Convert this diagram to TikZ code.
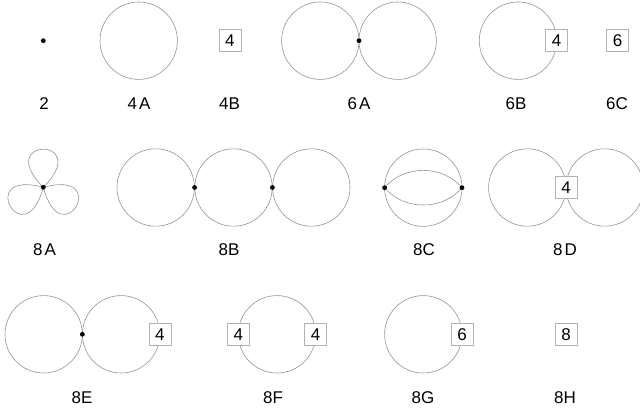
\documentclass[tikz,border=0pt]{standalone}
\usepackage{fontspec}
\setmainfont{Liberation Sans}
\pgfdeclarelayer{edges}
\pgfsetlayers{edges,main}
\begin{document}
\begin{tikzpicture}[x=1pt,y=1pt,
  ring/.style={draw=black!42, line width=0.6pt},
  vtx/.style={circle, fill=black, inner sep=0pt, minimum size=4.8pt},
  valbox/.style={draw=black!30, fill=white, line width=0.6pt, minimum size=22pt,
                 inner sep=0pt, font=\fontsize{17}{17}\selectfont},
  lbl/.style={inner sep=0pt, font=\fontsize{17}{17}\selectfont},
  lens/.style={draw=black!42, line width=0.6pt},
  petal/.style={draw=black!42, line width=0.6pt, min distance=72pt}]
\useasboundingbox (0,0) rectangle (640,-414);
\def\R{38.7}

% ---------- first row ----------
\node[vtx] (d2) at (43.3,-40.7) {};
\node[lbl] (l2) at (44,-103.7) {2};

\draw[ring] (138.7,-40.7) circle (\R);
\node[lbl] (l4a) at (139,-103.7) {4\kern2pt A};

\node[valbox] (b4b) at (229.8,-40.7) {4};
\node[lbl] (l4b) at (229.5,-103.7) {4B};

\draw[ring] (320.3,-40.7) circle (\R);
\draw[ring] (397.7,-40.7) circle (\R);
\node[vtx] (d6a) at (359,-40.7) {};
\node[lbl] (l6a) at (359,-103.7) {6\kern2pt A};

\draw[ring] (518,-40.7) circle (\R);
\node[valbox] (b6b) at (556.7,-40.7) {4};
\node[lbl] (l6b) at (516,-103.7) {6B};

\node[valbox] (b6c) at (617.5,-40.7) {6};
\node[lbl] (l6c) at (617,-103.7) {6C};

% ---------- second row ----------
\node[vtx] (d8a) at (43.3,-187.3) {};
\begin{pgfonlayer}{edges}
  \draw[petal] (d8a.center) to[out=135, in=45] (d8a.center);
  \draw[petal] (d8a.center) to[out=255, in=165] (d8a.center);
  \draw[petal] (d8a.center) to[out=15, in=285] (d8a.center);
\end{pgfonlayer}
\node[lbl] (l8a) at (44.5,-249.7) {8\kern2pt A};

\draw[ring] (155.7,-187.5) circle (\R);
\draw[ring] (233.5,-187.5) circle (\R);
\draw[ring] (311.3,-187.5) circle (\R);
\node[vtx] (d8b1) at (194.6,-187.5) {};
\node[vtx] (d8b2) at (272.4,-187.5) {};
\node[lbl] (l8b) at (229,-249.7) {8B};

\draw[ring] (423.3,-187.7) circle (\R);
\node[vtx] (d8cl) at (384.6,-187.7) {};
\node[vtx] (d8cr) at (462,-187.7) {};
\begin{pgfonlayer}{edges}
  \draw[lens] (d8cl.center) to[bend left=50] (d8cr.center);
  \draw[lens] (d8cl.center) to[bend right=50] (d8cr.center);
\end{pgfonlayer}
\node[lbl] (l8c) at (424,-249.7) {8C};

\draw[ring] (527.3,-187.5) circle (\R);
\draw[ring] (604.7,-187.5) circle (\R);
\node[valbox] (b8d) at (566,-187.5) {4};
\node[lbl] (l8d) at (565,-249.7) {8\kern2pt D};

% ---------- third row ----------
\draw[ring] (43.7,-334.3) circle (\R);
\draw[ring] (121.1,-334.3) circle (\R);
\node[vtx] (d8e) at (82.4,-334.3) {};
\node[valbox] (b8e) at (159.8,-334.3) {4};
\node[lbl] (l8e) at (82,-397.7) {8E};

\draw[ring] (277,-334.3) circle (\R);
\node[valbox] (b8f1) at (238.3,-334.3) {4};
\node[valbox] (b8f2) at (315.7,-334.3) {4};
\node[lbl] (l8f) at (273,-397.7) {8F};

\draw[ring] (423.3,-334.3) circle (\R);
\node[valbox] (b8g) at (462,-334.3) {6};
\node[lbl] (l8g) at (423,-397.7) {8G};

\node[valbox] (b8h) at (566,-334.3) {8};
\node[lbl] (l8h) at (565,-397.7) {8H};
\end{tikzpicture}
\end{document}
